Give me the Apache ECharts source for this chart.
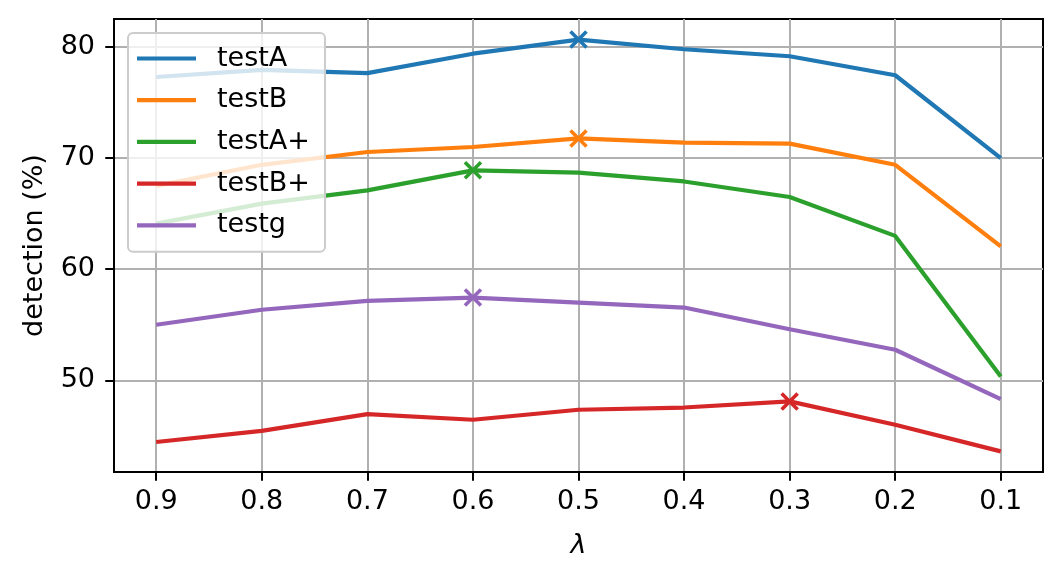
<!DOCTYPE html>
<html>
<head>
<meta charset="utf-8">
<script src="https://cdn.jsdelivr.net/npm/echarts@6/dist/echarts.min.js"></script>
<style>
    html, body { margin: 0; padding: 0; background: #fff; }
    #chart { width: 1063px; height: 579px; }
</style>
</head>
<body>
<div id="chart"></div>
<script>
// lambda values on x axis (drawn reversed, 0.9 -> 0.1)
var lambdas = [0.9, 0.8, 0.7, 0.6, 0.5, 0.4, 0.3, 0.2, 0.1];
var xTicks = [0.9, 0.8, 0.7, 0.6, 0.5, 0.4, 0.3, 0.2, 0.1];
var yTicks = [50, 60, 70, 80];

var names = ['testA', 'testB', 'testA+', 'testB+', 'testg'];
var colors = ['#1f77b4', '#ff7f0e', '#2ca02c', '#d62728', '#9467bd'];

var testA = [77.3, 77.95, 77.65, 79.4, 80.67, 79.8, 79.17, 77.46, 70.0];
var testB = [67.5, 69.4, 70.55, 71.0, 71.77, 71.4, 71.3, 69.4, 62.05];
var testAplus = [64.1, 65.9, 67.1, 68.9, 68.7, 67.9, 66.5, 63.0, 50.35];
var testBplus = [44.45, 45.45, 46.95, 46.45, 47.35, 47.55, 48.1, 46.0, 43.6];
var testg = [55.0, 56.35, 57.15, 57.45, 57.0, 56.55, 54.6, 52.75, 48.3];

var allValues = [testA, testB, testAplus, testBplus, testg];

var FONT = 'DejaVu Sans';
var FS = 27;

// marker "x" stroked path
var crossPath = 'path://M0,0L10,10M10,0L0,10';

var series = allValues.map(function (vals, k) {
    var maxIdx = vals.indexOf(Math.max.apply(null, vals));
    return {
        name: names[k],
        type: 'line',
        symbol: 'none',
        color: colors[k],
        lineStyle: { width: 4.2, color: colors[k] },
        data: lambdas.map(function (l, i) { return [l, vals[i]]; }),
        markPoint: {
            symbol: crossPath,
            symbolSize: 16,
            silent: true,
            label: { show: false },
            itemStyle: { color: 'transparent', borderColor: colors[k], borderWidth: 3.6 },
            data: [{ coord: [lambdas[maxIdx], vals[maxIdx]] }]
        }
    };
});

// matplotlib-style 5% margins
var flat = [].concat.apply([], allValues);
var yLo = Math.min.apply(null, flat), yHi = Math.max.apply(null, flat);
var yPad = (yHi - yLo) * 0.05;
var xPad = (0.9 - 0.1) * 0.05;

var myChart = echarts.init(document.getElementById('chart'));
myChart.setOption({
    animation: false,
    textStyle: { fontFamily: FONT },
    grid: {
        left: 114, top: 19, right: 20, bottom: 107,
        show: true, borderColor: '#000', borderWidth: 2, backgroundColor: 'transparent'
    },
    legend: {
        data: names.map(function (n) { return { name: n, icon: 'rect' }; }),
        orient: 'vertical',
        left: 128,
        top: 33,
        itemWidth: 59,
        itemHeight: 4.2,
        itemGap: 14.7,
        padding: [12, 15, 13, 9],
        backgroundColor: 'rgba(255,255,255,0.8)',
        borderColor: '#cccccc',
        borderWidth: 2,
        borderRadius: 5,
        textStyle: { fontFamily: FONT, fontSize: FS, color: '#000', lineHeight: 27, padding: [0, 0, 0, 16] }
    },
    xAxis: {
        type: 'value',
        inverse: true,
        min: 0.1 - xPad,
        max: 0.9 + xPad,
        name: 'λ',
        nameLocation: 'middle',
        nameGap: 60,
        nameTextStyle: { fontFamily: FONT, fontSize: FS, fontStyle: 'italic', color: '#000' },
        axisLine: { show: true, onZero: false, lineStyle: { color: '#000', width: 2 } },
        axisTick: { show: true, customValues: xTicks, length: 8.75, lineStyle: { color: '#000', width: 2 } },
        axisLabel: {
            customValues: xTicks, margin: 16, fontFamily: FONT, fontSize: FS, color: '#000',
            formatter: function (v) { return v.toFixed(1); }
        },
        splitLine: { show: true, lineStyle: { color: '#b0b0b0', width: 2 } }
    },
    yAxis: {
        type: 'value',
        min: yLo - yPad,
        max: yHi + yPad,
        name: 'detection (%)',
        nameLocation: 'middle',
        nameGap: 66,
        nameTextStyle: { fontFamily: FONT, fontSize: FS, color: '#000' },
        axisLine: { show: true, onZero: false, lineStyle: { color: '#000', width: 2 } },
        axisTick: { show: true, customValues: yTicks, length: 8.75, lineStyle: { color: '#000', width: 2 } },
        axisLabel: { customValues: yTicks, margin: 19, fontFamily: FONT, fontSize: FS, color: '#000' },
        splitLine: { show: true, lineStyle: { color: '#b0b0b0', width: 2 } }
    },
    series: series
});
</script>
</body>
</html>
